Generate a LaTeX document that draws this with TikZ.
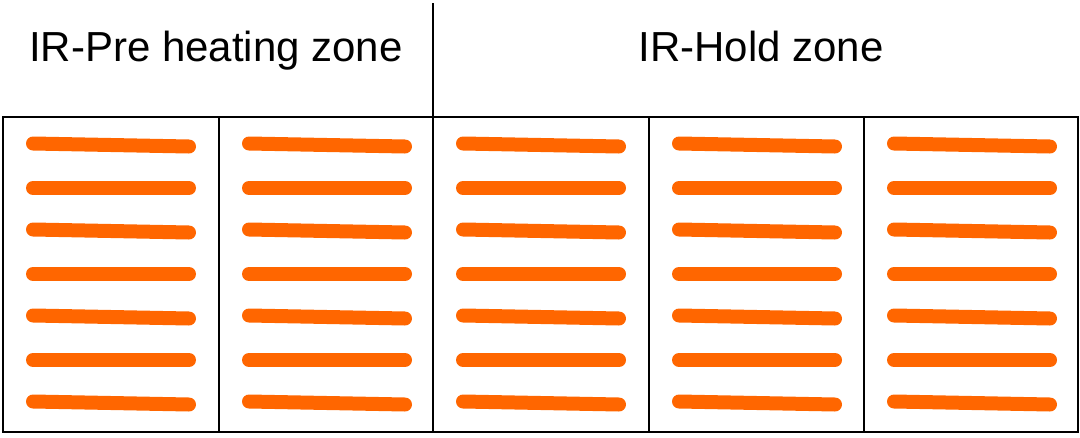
\documentclass[tikz,border=0pt]{standalone}
\usepackage{fontspec}
\setmainfont{Liberation Sans}
\usepackage{tkz-euclide}
\definecolor{lampcol}{HTML}{FF6600}
\tikzset{lamp/.style={lampcol,line width=14pt,line cap=round},
  zone/.style={font=\fontsize{42}{50}\selectfont,inner sep=0pt,anchor=base}}

\begin{document}
\begin{tikzpicture}[x=1pt,y=-1pt,line width=2pt]
\useasboundingbox(0,0)rectangle(1080,437);
\tkzDefPoints{3/117/A,1078/117/B,1078/432/C,3/432/D,433/3/T,433/117/M}
\draw(A)--(B)--(C)--(D)--cycle;
\draw(T)--(M);
\foreach \x in {219,433,649,864}
  \draw(\x,117)--(\x,432);
% lamps, odd rows a little slanted
\foreach \x in {3,219,433,649,864}
  \foreach \k in {0,...,6}{
    \pgfmathsetmacro\s{mod(\k,2)==0?3:0}
    \draw[lamp](\x+30,145+43*\k-\s/2)--++(156,\s);
  }
\node[zone](pre)at(216,61){IR-Pre heating zone};
\node[zone](hold)at(761,61){IR-Hold zone};
\end{tikzpicture}
\end{document}
